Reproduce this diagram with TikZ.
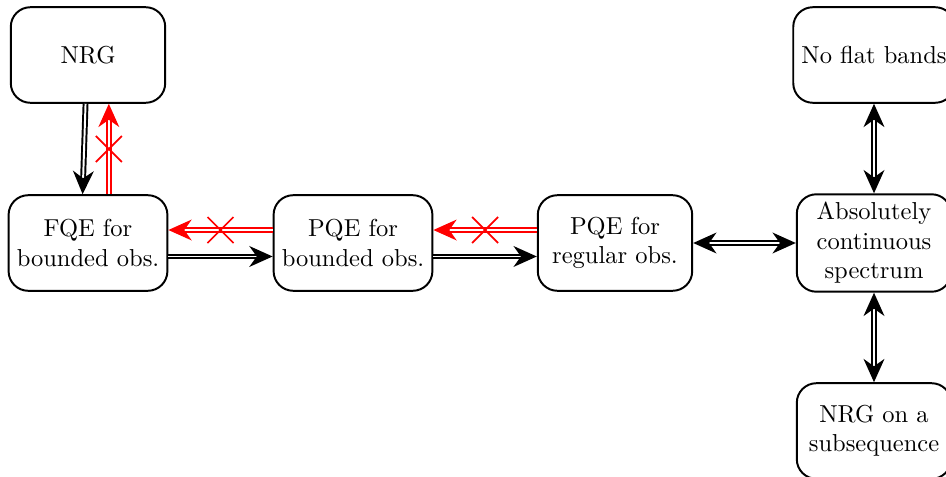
\documentclass[tikz,border=0pt]{standalone}
\usetikzlibrary{arrows.meta,calc}
\begin{document}
\begin{tikzpicture}[x=0.408pt,y=-0.408pt,
  box/.style={draw, line width=0.8pt, rounded corners=8pt, minimum width=63pt, minimum height=39pt, align=center, inner sep=3.33pt},
  imp/.style={line width=0.8pt, double distance=0.8pt, -{Stealth[length=9.5pt,width=8.5pt,inset=3pt]}},
  iff/.style={line width=0.8pt, double distance=0.8pt, {Stealth[length=9.5pt,width=8.5pt,inset=3pt]}-{Stealth[length=9.5pt,width=8.5pt,inset=3pt]}},
  nimp/.style={red, line width=0.6pt, double distance=1pt, -{Stealth[length=9.5pt,width=8.5pt,inset=3pt]}},
  cross/.style={red, line width=0.7pt}
]
\useasboundingbox (0,0) rectangle (946,477);
\node[box] (nrg) at (88,55) {NRG};
\node[box] (fqe) at (88,243) {FQE for\\bounded obs.};
\node[box] (pqeb) at (353,243) {PQE for\\bounded obs.};
\node[box] (pqer) at (615,243) {PQE for\\regular obs.};
\node[box] (nfb) at (874,55) {No flat bands};
\node[box] (ac) at (874,243) {Absolutely\\continuous\\spectrum};
\node[box] (nrgs) at (874,431) {NRG on a\\subsequence};

% NRG -> FQE and red non-implication
\draw[imp] ([xshift=-1pt]nrg.south) -- ([xshift=-2.2pt]fqe.north);
\draw[nimp] ([xshift=8.5pt]fqe.north) -- coordinate[midway] (c1) ([xshift=8.5pt]nrg.south);
\draw[cross] ($(c1)+(-13,-13)$) -- ($(c1)+(13,13)$);
\draw[cross] ($(c1)+(-13,13)$) -- ($(c1)+(13,-13)$);

% FQE <-> PQE bounded
\draw[imp] ([yshift=-5.5pt]fqe.east) -- ([yshift=-5.5pt]pqeb.west);
\draw[nimp] ([yshift=5.3pt]pqeb.west) -- coordinate[midway] (c2) ([yshift=5.3pt]fqe.east);
\draw[cross] ($(c2)+(-13,-13)$) -- ($(c2)+(13,13)$);
\draw[cross] ($(c2)+(-13,13)$) -- ($(c2)+(13,-13)$);

% PQE bounded <-> PQE regular
\draw[imp] ([yshift=-5.5pt]pqeb.east) -- ([yshift=-5.5pt]pqer.west);
\draw[nimp] ([yshift=5.3pt]pqer.west) -- coordinate[midway] (c3) ([yshift=5.3pt]pqeb.east);
\draw[cross] ($(c3)+(-13,-13)$) -- ($(c3)+(13,13)$);
\draw[cross] ($(c3)+(-13,13)$) -- ($(c3)+(13,-13)$);

% equivalences
\draw[iff] (pqer.east) -- (ac.west);
\draw[iff] (nfb.south) -- (ac.north);
\draw[iff] (ac.south) -- (nrgs.north);
\end{tikzpicture}
\end{document}
